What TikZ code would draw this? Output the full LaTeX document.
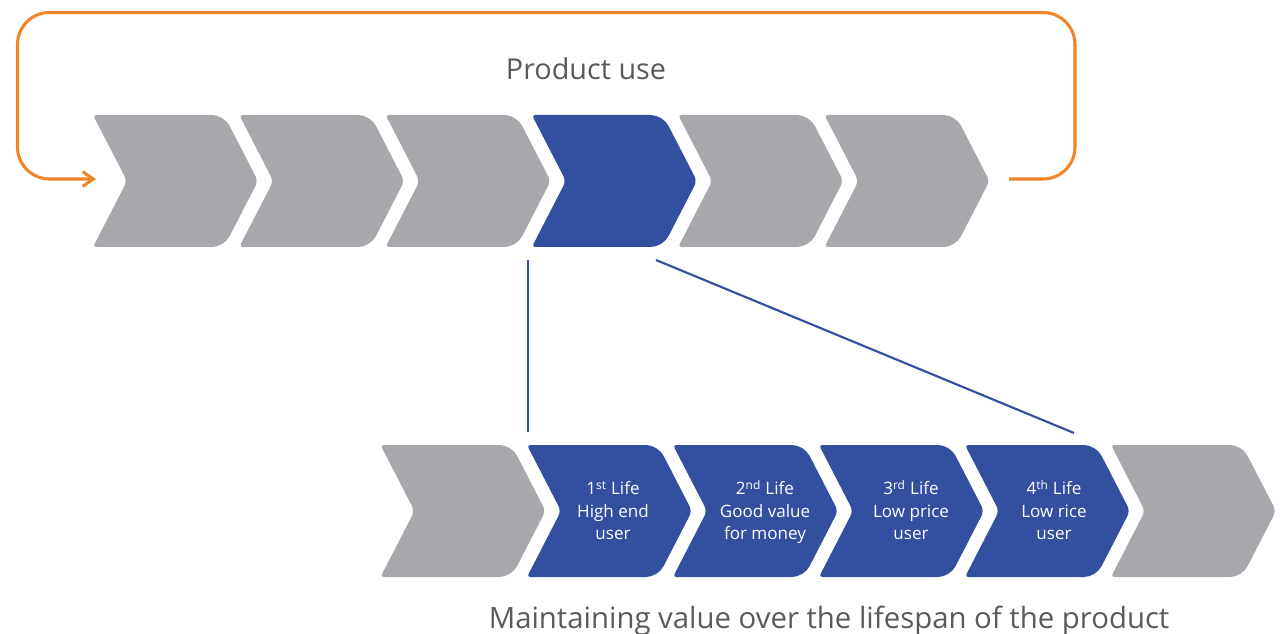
\documentclass[tikz,border=0pt]{standalone}
\usepackage{fontspec}
\setmainfont{Open Sans}
\usetikzlibrary{arrows.meta}
\definecolor{chevgray}{RGB}{167,168,172}
\definecolor{chevblue}{RGB}{50,79,160}
\definecolor{looporange}{RGB}{240,132,40}
\definecolor{txtgray}{RGB}{90,90,92}
\tikzset{
  pics/chev/.style={code={
    \fill[#1] (60,0) [rounded corners=9pt] -- (131,0) [rounded corners=4pt] -- (165,66) [rounded corners=9pt] -- (131,132) [rounded corners=2.5pt] -- (0,132) [rounded corners=4pt] -- (34,66) [rounded corners=2.5pt] -- (0,0) [sharp corners] -- cycle;
  }},
  lifetext/.style={text=white,align=center,font=\fontsize{12.8}{16.9}\selectfont,inner sep=0pt},
  titletext/.style={text=txtgray,font=\fontsize{22}{26}\selectfont,inner sep=0pt,anchor=base},
  zoomline/.style={draw=chevblue,line width=1.6pt},
  loopline/.style={draw=looporange,line width=2.3pt,rounded corners=24pt}
}
\newcommand{\lifeline}[1]{\vphantom{\textsuperscript{dh}}#1}
\newcommand{\lastline}[1]{\vphantom{y}#1}
\begin{document}
\begin{tikzpicture}[x=0.75pt,y=-0.75pt]
\useasboundingbox (0,0) rectangle (1281,634);
% top row
\foreach \i/\x/\c in {1/93/chevgray,2/239.3/chevgray,3/385.6/chevgray,4/531.9/chevblue,5/678.2/chevgray,6/824.5/chevgray}{
  \pic at (\x,115) {chev=\c};
  \coordinate (top\i) at (\x,115);
}
% bottom row
\foreach \i/\x/\c in {1/380.5/chevgray,2/527/chevblue,3/673/chevblue,4/819/chevblue,5/965/chevblue,6/1111/chevgray}{
  \pic at (\x,445) {chev=\c};
  \coordinate (bot\i) at (\x,445);
}
\node[lifetext] (life1) at (613,512) {\lifeline{1\textsuperscript{st} Life}\\High end\\\lastline{user}};
\node[lifetext] (life2) at (765,512) {\lifeline{2\textsuperscript{nd} Life}\\Good value\\\lastline{for money}};
\node[lifetext] (life3) at (911,512) {\lifeline{3\textsuperscript{rd} Life}\\Low price\\\lastline{user}};
\node[lifetext] (life4) at (1054,512) {\lifeline{4\textsuperscript{th} Life}\\Low rice\\\lastline{user}};
\node[titletext,font=\fontsize{21.6}{26}\selectfont] (title) at (586,80) {Product use};
\node[titletext] (caption) at (829,628) {Maintaining value over the lifespan of the product};
% zoom lines
\coordinate (zA) at (528,260);
\coordinate (zB) at (528,432);
\coordinate (zC) at (656,260);
\coordinate (zD) at (1074,433);
\draw[zoomline] (zA) -- (zB);
\draw[zoomline] (zC) -- (zD);
% loop
\coordinate (loopstart) at (1009,179);
\coordinate (loopend) at (96,179);
\draw[loopline,-{Straight Barb[length=8pt,width=11pt]}] (loopstart) -- (1075,179) -- (1075,12.5) -- (17.5,12.5) -- (17.5,179) -- (loopend);
\end{tikzpicture}
\end{document}
